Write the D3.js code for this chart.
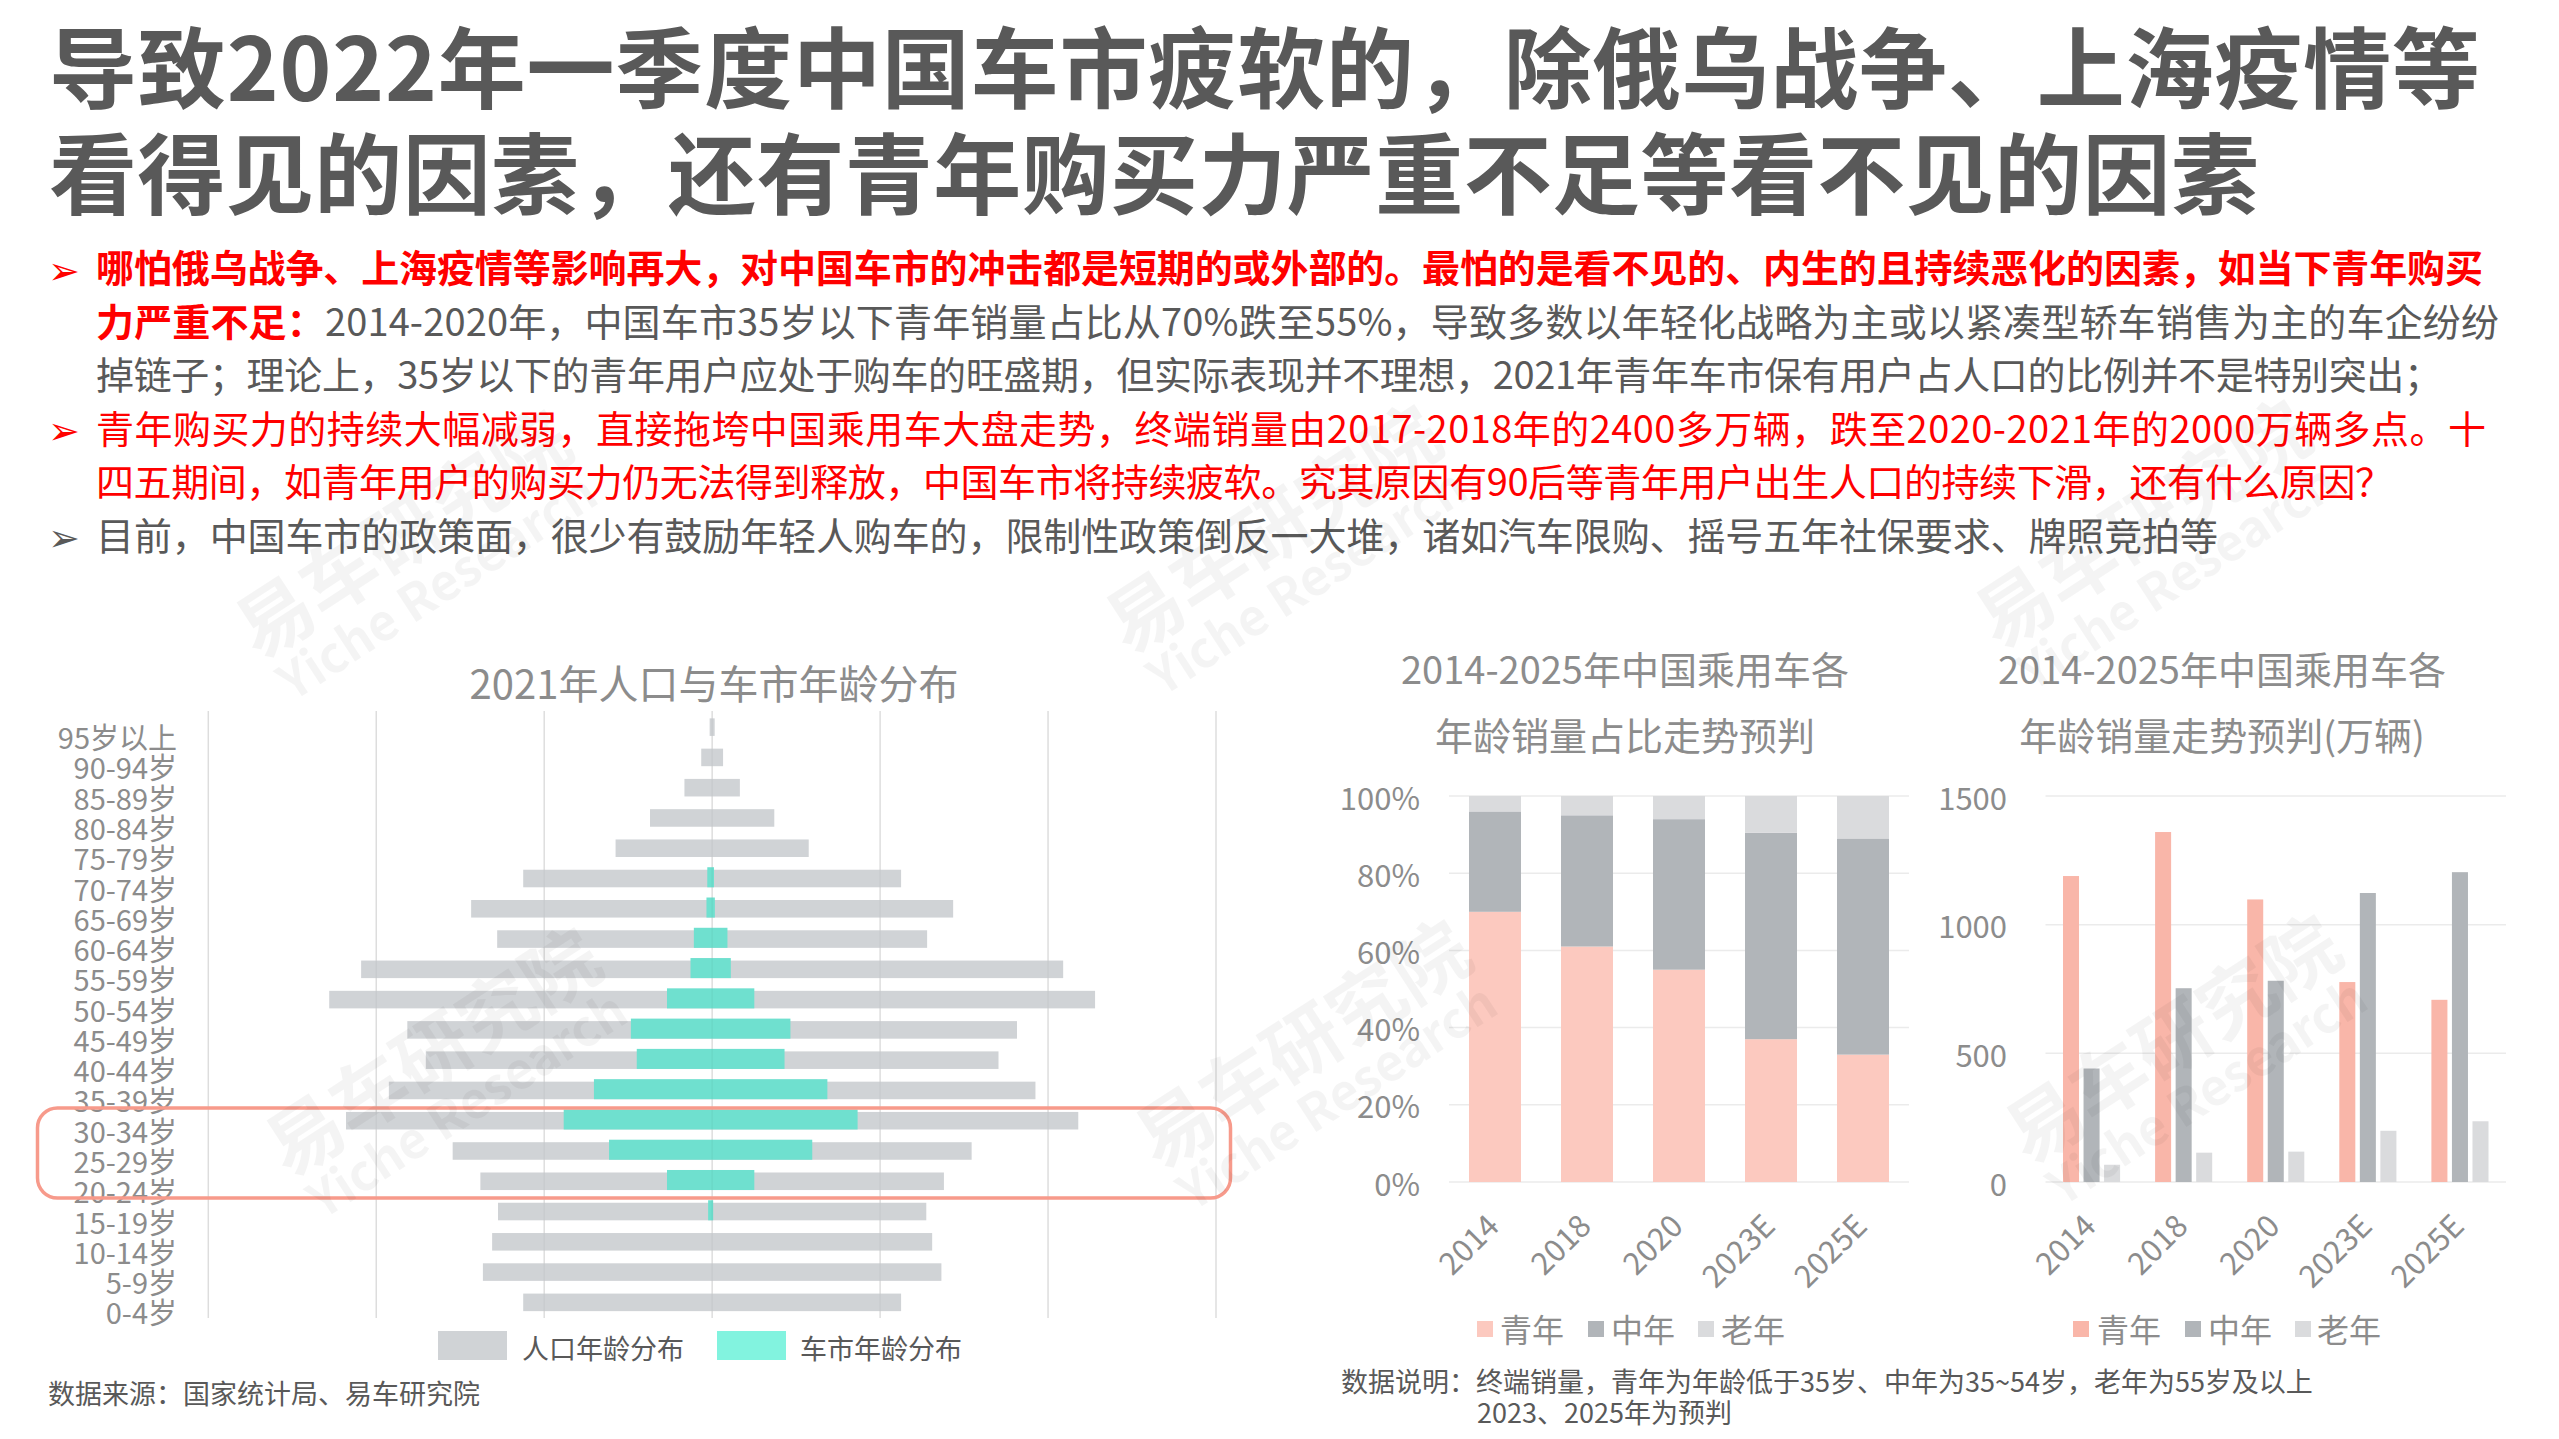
<!DOCTYPE html>
<html><head><meta charset="utf-8">
<script src="https://cdn.jsdelivr.net/npm/d3@7/dist/d3.min.js"></script>
<style>
html,body{margin:0;padding:0;background:#fff;overflow:hidden;}
svg{display:block;}
text{font-family:"Noto Sans CJK SC","Microsoft YaHei",sans-serif;}
</style></head><body>
<svg id="c" width="2559" height="1439"></svg>
<script>
// ---------------- DATA ----------------
const titleLines = [
  "导致2022年一季度中国车市疲软的，除俄乌战争、上海疫情等",
  "看得见的因素，还有青年购买力严重不足等看不见的因素"
];
const bulletLines = [
  {bullet: "red",  segs: [["哪怕俄乌战争、上海疫情等影响再大，对中国车市的冲击都是短期的或外部的。最怕的是看不见的、内生的且持续恶化的因素，如当下青年购买", "redBold"]]},
  {bullet: null,   segs: [["力严重不足：", "redBold"], ["2014-2020年，中国车市35岁以下青年销量占比从70%跌至55%，导致多数以年轻化战略为主或以紧凑型轿车销售为主的车企纷纷", "gray"]]},
  {bullet: null,   segs: [["掉链子；理论上，35岁以下的青年用户应处于购车的旺盛期，但实际表现并不理想，2021年青年车市保有用户占人口的比例并不是特别突出；", "gray"]]},
  {bullet: "red",  segs: [["青年购买力的持续大幅减弱，直接拖垮中国乘用车大盘走势，终端销量由2017-2018年的2400多万辆，跌至2020-2021年的2000万辆多点。十", "red"]]},
  {bullet: null,   segs: [["四五期间，如青年用户的购买力仍无法得到释放，中国车市将持续疲软。究其原因有90后等青年用户出生人口的持续下滑，还有什么原因？", "red"]]},
  {bullet: "gray", segs: [["目前，中国车市的政策面，很少有鼓励年轻人购车的，限制性政策倒反一大堆，诸如汽车限购、摇号五年社保要求、牌照竞拍等", "gray"]]}
];

// Pyramid (2021年人口与车市年龄分布), value = half width in % units
const ageGroups = ["95岁以上","90-94岁","85-89岁","80-84岁","75-79岁","70-74岁","65-69岁","60-64岁","55-59岁","50-54岁","45-49岁","40-44岁","35-39岁","30-34岁","25-29岁","20-24岁","15-19岁","10-14岁","5-9岁","0-4岁"];
const populationShare = [0.03,0.13,0.33,0.74,1.15,2.25,2.87,2.56,4.18,4.56,3.63,3.41,3.85,4.36,3.09,2.76,2.55,2.62,2.73,2.25];
const carMarketShare  = [0,0,0,0,0,0.04,0.05,0.20,0.24,0.52,0.95,0.88,1.39,1.75,1.21,0.52,0.03,0,0,0];
const pyramidTicks = [-6,-4,-2,0,2,4,6];
const pyramidLegend = ["人口年龄分布","车市年龄分布"];

// Passenger car sales by age
const years = ["2014","2018","2020","2023E","2025E"];
const ageSegments = ["青年","中年","老年"];
const shareYouth  = [70, 61, 55, 37, 33];
const shareMiddle = [26, 34, 39, 53.5, 56];
const shareSenior = [4, 5, 6, 9.5, 11];
const salesYouth  = [1189, 1360, 1098, 777, 708];
const salesMiddle = [441, 753, 782, 1123, 1204];
const salesSenior = [67, 114, 118, 199, 236];
const percentTicks = [0, 20, 40, 60, 80, 100];
const salesTicks = [0, 500, 1000, 1500];

// ---------------- DRAW ----------------
const svg = d3.select("#c");

// Title
const titleY = [62, 168];
const titleW = [2431, 2210];
titleLines.forEach((t, i) => {
  svg.append("text").attr("x", 49).attr("y", titleY[i])
    .attr("dominant-baseline", "central")
    .attr("font-size", 88).attr("font-weight", 700).attr("fill", "#595959")
    .attr("textLength", titleW[i]).attr("lengthAdjust", "spacing")
    .text(t);
});

// Bullet text
const lineY = [265, 318.5, 372, 425.5, 479, 532.5];
const lineW = [2387, 2403, 2346, 2390, 2297, 2122];
const styleMap = {
  redBold: {fill: "#ff0000", weight: 700},
  red: {fill: "#ff0000", weight: 400},
  gray: {fill: "#595959", weight: 400}
};
bulletLines.forEach((ln, i) => {
  if (ln.bullet) {
    svg.append("text").attr("x", 48).attr("y", lineY[i] + 2)
      .attr("dominant-baseline", "central")
      .attr("font-family", '"DejaVu Sans",sans-serif')
      .attr("font-size", 38)
      .attr("fill", ln.bullet === "red" ? "#ff0000" : "#595959")
      .text("➢");
  }
  const t = svg.append("text").attr("x", 96).attr("y", lineY[i])
    .attr("dominant-baseline", "central").attr("font-size", 38)
    .attr("textLength", lineW[i]).attr("lengthAdjust", "spacing");
  ln.segs.forEach(s => {
    const st = styleMap[s[1]];
    t.append("tspan").attr("fill", st.fill).attr("font-weight", st.weight).text(s[0]);
  });
});

// ---------------- Pyramid ----------------
const px = d3.scaleLinear().domain([-6, 6]).range([208.3, 1216]);
const py = d3.scaleBand().domain(ageGroups).range([712, 1317.5]).paddingInner(0.42).paddingOuter(0.21);
const pyr = svg.append("g");
pyr.append("text").attr("x", 714).attr("y", 682).attr("text-anchor", "middle")
  .attr("dominant-baseline", "central").attr("font-size", 40).attr("fill", "#8c8c8c")
  .text("2021年人口与车市年龄分布");
pyr.selectAll(".pg").data(pyramidTicks).join("line")
  .attr("x1", d => px(d)).attr("x2", d => px(d)).attr("y1", 711).attr("y2", 1318)
  .attr("stroke", "#e6e6e6").attr("stroke-width", 1.5);
pyr.selectAll(".pop").data(ageGroups).join("rect")
  .attr("x", (d, i) => px(-populationShare[i]))
  .attr("width", (d, i) => px(populationShare[i]) - px(-populationShare[i]))
  .attr("y", d => py(d)).attr("height", py.bandwidth())
  .attr("fill", "#d0d3d6");
pyr.selectAll(".car").data(ageGroups.filter((d, i) => carMarketShare[i] > 0)).join("rect")
  .attr("x", d => px(-carMarketShare[ageGroups.indexOf(d)]) - 1.5)
  .attr("width", d => px(carMarketShare[ageGroups.indexOf(d)]) - px(-carMarketShare[ageGroups.indexOf(d)]))
  .attr("y", d => py(d) - 2.5).attr("height", py.bandwidth() + 2.5)
  .attr("fill", "#6fe0cf");
// gridlines showing through
pyr.selectAll(".pg2").data(pyramidTicks).join("line")
  .attr("x1", d => px(d)).attr("x2", d => px(d)).attr("y1", 711).attr("y2", 1318)
  .attr("stroke", "#000").attr("stroke-opacity", 0.035).attr("stroke-width", 1.5);
pyr.selectAll(".lab").data(ageGroups).join("text")
  .attr("x", 177).attr("y", d => py(d) + py.bandwidth() / 2 + 9)
  .attr("text-anchor", "end").attr("dominant-baseline", "central")
  .attr("font-size", 29).attr("fill", "#8c8c8c").text(d => d);
// highlight box
pyr.append("rect").attr("x", 37.5).attr("y", 1108).attr("width", 1193).attr("height", 90)
  .attr("rx", 20).attr("fill", "none").attr("stroke", "#f79a8b").attr("stroke-width", 3.5);
// legend
const plg = [{x: 438, tx: 522, c: "#d0d3d6"}, {x: 717, tx: 800, c: "#82f3df"}];
plg.forEach((l, i) => {
  pyr.append("rect").attr("x", l.x).attr("y", 1331).attr("width", 69).attr("height", 29).attr("fill", l.c);
  pyr.append("text").attr("x", l.tx).attr("y", 1347).attr("dominant-baseline", "central")
    .attr("font-size", 27).attr("fill", "#595959").text(pyramidLegend[i]);
});
svg.append("text").attr("x", 48).attr("y", 1392).attr("dominant-baseline", "central")
  .attr("font-size", 27).attr("fill", "#595959").text("数据来源：国家统计局、易车研究院");

// ---------------- Chart 2: stacked percent ----------------
const segColors2 = {"青年": "#fcc9bf", "中年": "#b1b5b9", "老年": "#dadbdd"};
const segColors3 = {"青年": "#f9b6a9", "中年": "#b1b5b9", "老年": "#dadbdd"};
const shareRows = years.map((y, i) => ({year: y, "青年": shareYouth[i], "中年": shareMiddle[i], "老年": shareSenior[i]}));
const salesRows = years.map((y, i) => ({year: y, "青年": salesYouth[i], "中年": salesMiddle[i], "老年": salesSenior[i]}));

function chartTitle(cx, l1, l2) {
  svg.append("text").attr("x", cx).attr("y", 667).attr("text-anchor", "middle")
    .attr("dominant-baseline", "central").attr("font-size", 38).attr("fill", "#8c8c8c").text(l1);
  svg.append("text").attr("x", cx).attr("y", 733).attr("text-anchor", "middle")
    .attr("dominant-baseline", "central").attr("font-size", 38).attr("fill", "#8c8c8c").text(l2);
}
function legend(xs, txs, colors) {
  ageSegments.forEach((k, i) => {
    svg.append("rect").attr("x", xs[i]).attr("y", 1321).attr("width", 16).attr("height", 16).attr("fill", colors[k]);
    svg.append("text").attr("x", txs[i]).attr("y", 1328).attr("dominant-baseline", "central")
      .attr("font-size", 32).attr("fill", "#8c8c8c").text(k);
  });
}

chartTitle(1625, "2014-2025年中国乘用车各", "年龄销量占比走势预判");
const x2 = d3.scaleBand().domain(years).range([1449, 1909]).paddingInner(0.435).paddingOuter(0.2175);
const y2 = d3.scaleLinear().domain([0, 100]).range([1182, 796]);
const g2 = svg.append("g");
g2.selectAll("line").data(percentTicks).join("line")
  .attr("x1", 1449).attr("x2", 1909).attr("y1", d => y2(d)).attr("y2", d => y2(d))
  .attr("stroke", "#ebebeb").attr("stroke-width", 1.5);
const stack = d3.stack().keys(ageSegments)(shareRows);
stack.forEach(layer => {
  g2.selectAll(".s" + layer.index).data(layer).join("rect")
    .attr("x", d => x2(d.data.year)).attr("width", x2.bandwidth())
    .attr("y", d => y2(d[1])).attr("height", d => y2(d[0]) - y2(d[1]))
    .attr("fill", segColors2[layer.key]);
});
g2.selectAll(".yl").data(percentTicks).join("text")
  .attr("x", 1420).attr("y", d => y2(d)).attr("text-anchor", "end").attr("dominant-baseline", "central")
  .attr("font-size", 31).attr("fill", "#8c8c8c").text(d => d + "%");
g2.selectAll(".xl").data(years).join("text")
  .attr("transform", d => `translate(${x2(d) + x2.bandwidth() / 2 + 6},1228) rotate(-45)`)
  .attr("text-anchor", "end").attr("font-size", 31).attr("fill", "#8c8c8c").text(d => d);
legend([1477, 1588, 1698], [1500, 1611, 1721], segColors2);

// ---------------- Chart 3: grouped sales ----------------
chartTitle(2222, "2014-2025年中国乘用车各", "年龄销量走势预判(万辆)");
const x3 = d3.scaleBand().domain(years).range([2045.5, 2506]).paddingInner(0.38).paddingOuter(0.19);
const x3i = d3.scaleBand().domain(ageSegments).range([0, x3.bandwidth()]).paddingInner(0.22);
const y3 = d3.scaleLinear().domain([0, 1500]).range([1182, 796]);
const g3 = svg.append("g");
g3.selectAll("line").data(salesTicks).join("line")
  .attr("x1", 2045.5).attr("x2", 2506).attr("y1", d => y3(d)).attr("y2", d => y3(d))
  .attr("stroke", "#ebebeb").attr("stroke-width", 1.5);
const grp = g3.selectAll(".grp").data(salesRows).join("g")
  .attr("transform", d => `translate(${x3(d.year)},0)`);
grp.selectAll("rect").data(d => ageSegments.map(k => ({k, v: d[k]}))).join("rect")
  .attr("x", d => x3i(d.k)).attr("width", x3i.bandwidth())
  .attr("y", d => y3(d.v)).attr("height", d => y3(0) - y3(d.v))
  .attr("fill", d => segColors3[d.k]);
g3.selectAll(".yl").data(salesTicks).join("text")
  .attr("x", 2007).attr("y", d => y3(d)).attr("text-anchor", "end").attr("dominant-baseline", "central")
  .attr("font-size", 31).attr("fill", "#8c8c8c").text(d => d);
g3.selectAll(".xl").data(years).join("text")
  .attr("transform", d => `translate(${x3(d) + x3.bandwidth() / 2 + 6},1228) rotate(-45)`)
  .attr("text-anchor", "end").attr("font-size", 31).attr("fill", "#8c8c8c").text(d => d);
legend([2073, 2185, 2295], [2097, 2208, 2317], segColors3);

// Note
svg.append("text").attr("x", 1341).attr("y", 1380).attr("dominant-baseline", "central")
  .attr("font-size", 27).attr("fill", "#595959").text("数据说明：终端销量，青年为年龄低于35岁、中年为35~54岁，老年为55岁及以上");
svg.append("text").attr("x", 1477).attr("y", 1411).attr("dominant-baseline", "central")
  .attr("font-size", 27).attr("fill", "#595959").text("2023、2025年为预判");

// Watermarks
const wmPos = [[400, 530], [1270, 525], [2140, 520], [430, 1048], [1300, 1040], [2170, 1035]];
wmPos.forEach(p => {
  const g = svg.append("g").attr("transform", `translate(${p[0]},${p[1]}) rotate(-33)`)
    .attr("fill", "#000").attr("fill-opacity", 0.045).attr("font-weight", 700);
  g.append("text").attr("text-anchor", "middle").attr("dominant-baseline", "central")
    .attr("font-size", 76).text("易车研究院");
  g.append("text").attr("y", 64).attr("text-anchor", "middle").attr("dominant-baseline", "central")
    .attr("font-family", '"Open Sans",sans-serif').attr("font-size", 50).text("Yiche Research");
});
</script>
</body></html>
